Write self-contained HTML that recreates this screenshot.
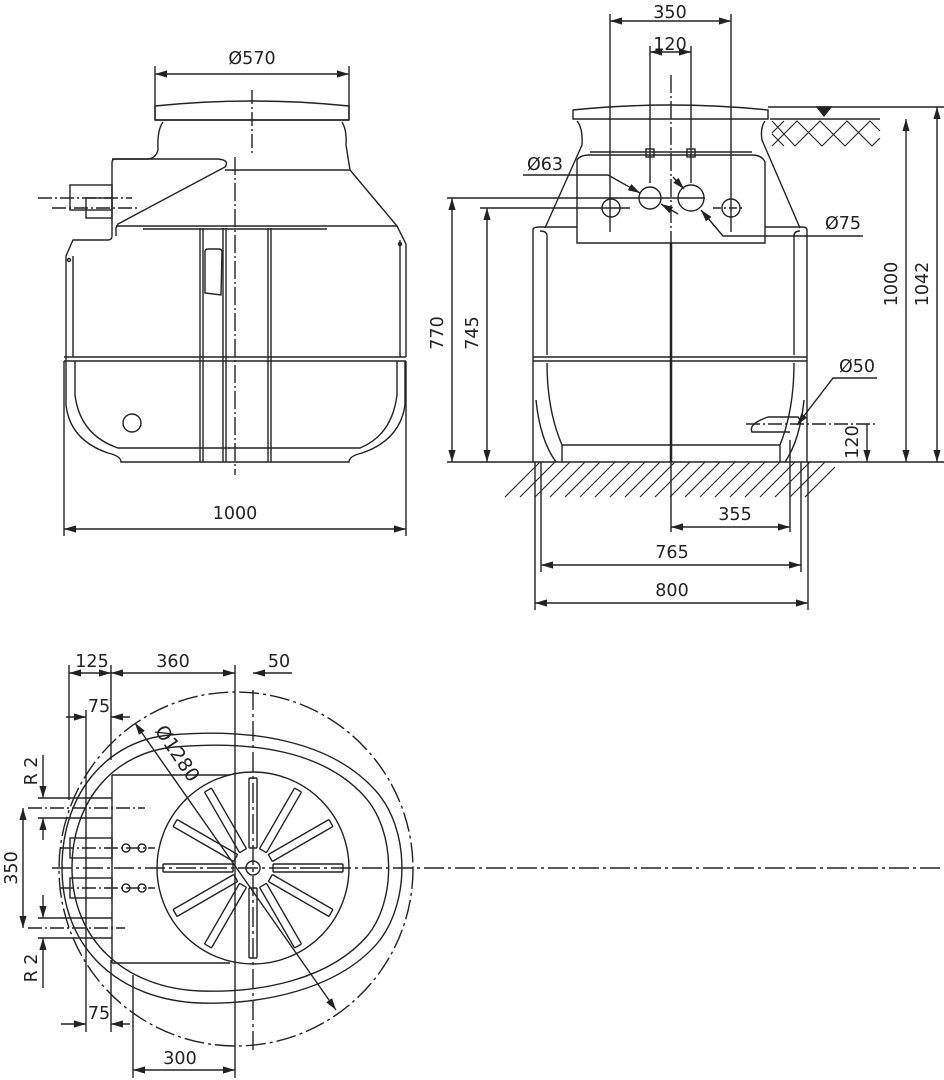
<!DOCTYPE html>
<html><head><meta charset="utf-8"><style>
html,body{margin:0;padding:0;background:#fff}
svg{display:block}
text{font-family:"DejaVu Sans","Liberation Sans",sans-serif;font-size:17.5px;fill:#222}
</style></head><body>
<svg width="944" height="1080" viewBox="0 0 944 1080" xmlns="http://www.w3.org/2000/svg">
<defs>
<marker id="a" viewBox="0 0 10 10" refX="10" refY="5" markerWidth="12" markerHeight="12" markerUnits="userSpaceOnUse" orient="auto-start-reverse"><path d="M0,2 L10,5 L0,8 z" fill="#222"/></marker>
</defs>
<g fill="none" stroke="#222" stroke-width="1.4">
<!-- ========== LEFT VIEW ========== -->
<path d="M155,120 L155,106 Q252,96 349,106 L349,120 Z"/>
<line x1="155" y1="120" x2="349" y2="120"/>
<path d="M163,122 Q157,130 158,150 Q156,158 148,159"/>
<path d="M342,122 Q347,130 346,145 L350,170"/>
<path d="M148,159 L115,159 Q112,159 112,163 L112,236 Q112,240 108,240 L73,240 L66,256 L66,357"/>
<path d="M112,159 L218,159 Q230,160 225,167 L118,224 L116,228 L116,236"/>
<line x1="225" y1="170" x2="350" y2="170"/>
<path d="M350,170 L397,226 L406,244 L406,357"/>
<line x1="116" y1="226" x2="397" y2="226"/>
<line x1="143" y1="229" x2="327" y2="229"/>
<rect x="70" y="185" width="42" height="25"/>
<rect x="86" y="198" width="26" height="20"/>
<line x1="38" y1="198" x2="132" y2="198" stroke-dasharray="14,3,2,3"/>
<line x1="52" y1="208" x2="140" y2="208" stroke-dasharray="14,3,2,3"/>
<line x1="64" y1="357" x2="406" y2="357"/><line x1="64" y1="361" x2="406" y2="361"/>
<path d="M66,357 L66,405 Q70,440 108,453 Q121,456 121,462 L349,462 Q349,456 362,453 Q400,440 405,405 L405,361"/>
<path d="M75,361 L75,395 Q80,435 118,448 L360,448 Q392,435 397,395 L397,361"/>
<path d="M73,256 L73,357 M400,240 L400,357"/>
<path d="M200,228 V462 M203,228 V462 M223,228 V462 M226,228 V462 M268,228 V462 M271,228 V462"/>
<path d="M205,252 Q205,249 208,249 L219,249 Q222,249 222,252 L221,295 L205,293 Z"/>
<circle cx="132" cy="423" r="9"/>
<circle cx="69" cy="260" r="1.5"/><circle cx="400" cy="244" r="1.5"/>
<line x1="252" y1="90" x2="252" y2="155" stroke-dasharray="14,3,2,3"/>
<line x1="235" y1="157" x2="235" y2="475" stroke-dasharray="18,3,2,3"/>
<line x1="155" y1="66" x2="155" y2="120"/><line x1="349" y1="66" x2="349" y2="120"/>
<line x1="155" y1="74" x2="349" y2="74" marker-start="url(#a)" marker-end="url(#a)"/>
<line x1="64" y1="361" x2="64" y2="536"/><line x1="406" y1="361" x2="406" y2="536"/>
<line x1="64" y1="529" x2="406" y2="529" marker-start="url(#a)" marker-end="url(#a)"/>

<!-- ========== RIGHT VIEW ========== -->
<path d="M573,119 L573,110 Q670,100 768,110 L768,119 Z"/>
<path d="M577,121 Q583,128 582,145 L545,228"/>
<path d="M765,121 Q760,128 762,140 L800,228"/>
<path d="M577,243 L577,160 Q580,155 590,155 L752,155 Q762,155 765,162 L765,243 Z"/>
<line x1="590" y1="152" x2="752" y2="152"/>
<rect x="646" y="149" width="8" height="8"/><rect x="687" y="149" width="8" height="8"/>
<circle cx="611" cy="208" r="9"/><circle cx="650" cy="198" r="11"/><circle cx="691" cy="198" r="13"/><circle cx="731" cy="208" r="9"/>
<line x1="447" y1="198" x2="705" y2="198"/>
<line x1="480" y1="208" x2="630" y2="208"/><line x1="713" y1="208" x2="745" y2="208" stroke-dasharray="8,3,2,3"/>
<path d="M533,462 L533,229 Q534,227 540,227 L577,227 M765,227 L802,227 Q807,227 807,230 L807,462"/>
<path d="M540,231 Q547,231 547,236 L547,355 M800,231 Q794,231 794,236 L794,355"/>
<line x1="533" y1="357" x2="807" y2="357"/><line x1="533" y1="361" x2="807" y2="361"/>
<path d="M547,363 Q547,410 562,445 L562,462 M562,445 L780,445 L780,462 M794,363 Q794,410 780,445"/>
<path d="M536,400 Q540,440 556,462 M804,400 Q800,440 785,462"/>
<path d="M800,420 L798,417 L768,417 Q748,424 752,432 L790,432"/>
<line x1="746" y1="424" x2="875" y2="424" stroke-dasharray="14,3,2,3"/>
<line x1="671" y1="75" x2="671" y2="243" stroke-dasharray="18,3,2,3"/>
<line x1="671" y1="243" x2="671" y2="462" stroke-width="2.5"/>
<line x1="671" y1="462" x2="671" y2="532"/>
<line x1="447" y1="462" x2="944" y2="462"/>
<path d="M505,497 L540,462 M520,497 L555,462 M535,497 L570,462 M550,497 L585,462 M565,497 L600,462 M580,497 L615,462 M595,497 L630,462 M610,497 L645,462 M625,497 L660,462 M640,497 L675,462 M655,497 L690,462 M670,497 L705,462 M685,497 L720,462 M700,497 L735,462 M715,497 L750,462 M730,497 L765,462 M745,497 L780,462 M760,497 L795,462 M775,497 L810,462 M790,497 L825,462 M805,497 L835,467" stroke-width="1.1"/>
<line x1="770" y1="119" x2="880" y2="119"/>
<path d="M772,121 L795,146 L820,121 L845,146 L870,121 L880,131 M772,146 L797,121 L822,146 L847,121 L872,146 L880,138 M772,133 L784,121 M772,134 L784,146" stroke-width="1.1"/>
<path d="M817,107 L831,107 L824,116 Z" fill="#222"/>
<line x1="768" y1="107" x2="944" y2="107"/>
<line x1="610" y1="14" x2="610" y2="232"/><line x1="731" y1="14" x2="731" y2="232"/>
<line x1="610" y1="21" x2="731" y2="21" marker-start="url(#a)" marker-end="url(#a)"/>
<line x1="650" y1="46" x2="650" y2="183"/><line x1="691" y1="46" x2="691" y2="183"/>
<line x1="650" y1="52" x2="691" y2="52" marker-start="url(#a)" marker-end="url(#a)"/>
<line x1="452" y1="198" x2="452" y2="462" marker-start="url(#a)" marker-end="url(#a)"/>
<line x1="487" y1="208" x2="487" y2="462" marker-start="url(#a)" marker-end="url(#a)"/>
<line x1="906" y1="119" x2="906" y2="462" marker-start="url(#a)" marker-end="url(#a)"/>
<line x1="937" y1="107" x2="937" y2="462" marker-start="url(#a)" marker-end="url(#a)"/>
<line x1="867" y1="424" x2="867" y2="462" marker-end="url(#a)"/>
<line x1="535" y1="462" x2="535" y2="610"/><line x1="808" y1="462" x2="808" y2="610"/>
<line x1="541" y1="462" x2="541" y2="572"/><line x1="801" y1="462" x2="801" y2="572"/>
<line x1="790" y1="440" x2="790" y2="532"/>
<line x1="671" y1="527" x2="790" y2="527" marker-start="url(#a)" marker-end="url(#a)"/>
<line x1="541" y1="565" x2="801" y2="565" marker-start="url(#a)" marker-end="url(#a)"/>
<line x1="535" y1="603" x2="808" y2="603" marker-start="url(#a)" marker-end="url(#a)"/>
<path d="M523,175 L608,175 L640,193" marker-end="url(#a)"/>
<path d="M661,204 L678,214" marker-start="url(#a)"/>
<path d="M673,177 L684,189" marker-end="url(#a)"/>
<path d="M863,236 L723,236 L701,210" marker-end="url(#a)"/>
<path d="M877,378 L833,378 L797,425" marker-end="url(#a)"/>

<!-- ========== BOTTOM VIEW ========== -->
<circle cx="236" cy="869" r="177" stroke-dasharray="20,4,3,4"/>
<path d="M62,868 C62,790 110,740 170,735 C250,728 330,740 375,790 C410,828 410,900 380,940 C340,990 260,1005 200,1003 C120,1000 62,950 62,868 Z"/>
<path d="M72,868 C72,800 115,752 175,747 C255,740 325,752 365,797 C396,832 396,900 368,935 C330,980 260,993 200,991 C125,988 72,940 72,868 Z"/>
<path d="M112,775 L230,775 M112,963 L230,963 M112,775 L112,963"/>
<rect x="70" y="838" width="42" height="20"/><rect x="70" y="878" width="42" height="20"/>
<circle cx="253" cy="868" r="96"/>
<circle cx="253" cy="868" r="7"/>
<g transform="translate(253,868)">
<rect x="20" y="-4" width="70" height="8" rx="1"/>
<rect x="20" y="-4" width="70" height="8" rx="1" transform="rotate(30)"/>
<rect x="20" y="-4" width="70" height="8" rx="1" transform="rotate(60)"/>
<rect x="20" y="-4" width="70" height="8" rx="1" transform="rotate(90)"/>
<rect x="20" y="-4" width="70" height="8" rx="1" transform="rotate(120)"/>
<rect x="20" y="-4" width="70" height="8" rx="1" transform="rotate(150)"/>
<rect x="20" y="-4" width="70" height="8" rx="1" transform="rotate(180)"/>
<rect x="20" y="-4" width="70" height="8" rx="1" transform="rotate(210)"/>
<rect x="20" y="-4" width="70" height="8" rx="1" transform="rotate(240)"/>
<rect x="20" y="-4" width="70" height="8" rx="1" transform="rotate(270)"/>
<rect x="20" y="-4" width="70" height="8" rx="1" transform="rotate(300)"/>
<rect x="20" y="-4" width="70" height="8" rx="1" transform="rotate(330)"/>
</g>
<circle cx="126" cy="848" r="4"/><circle cx="142" cy="848" r="4"/><circle cx="126" cy="888" r="4"/><circle cx="142" cy="888" r="4"/>
<line x1="52" y1="868" x2="944" y2="868" stroke-dasharray="20,4,3,4"/>
<line x1="253" y1="690" x2="253" y2="1050" stroke-dasharray="20,4,3,4"/>
<line x1="60" y1="848" x2="155" y2="848" stroke-dasharray="14,3,2,3"/>
<line x1="60" y1="888" x2="155" y2="888" stroke-dasharray="14,3,2,3"/>
<line x1="28" y1="808" x2="145" y2="808" stroke-dasharray="14,3,2,3"/>
<line x1="28" y1="928" x2="125" y2="928" stroke-dasharray="14,3,2,3"/>
<line x1="38" y1="798" x2="112" y2="798"/><line x1="38" y1="818" x2="112" y2="818"/>
<line x1="38" y1="918" x2="112" y2="918"/><line x1="38" y1="938" x2="112" y2="938"/>
<line x1="135" y1="723" x2="336" y2="1010" marker-start="url(#a)" marker-end="url(#a)"/>
<line x1="69" y1="665" x2="69" y2="800"/><line x1="111" y1="665" x2="111" y2="760"/>
<line x1="235" y1="665" x2="235" y2="1078"/><line x1="86" y1="710" x2="86" y2="1032"/>
<line x1="111" y1="960" x2="111" y2="1032"/><line x1="133" y1="975" x2="133" y2="1078"/>
<line x1="69" y1="673" x2="111" y2="673" marker-start="url(#a)" marker-end="url(#a)"/>
<line x1="111" y1="673" x2="235" y2="673" marker-start="url(#a)" marker-end="url(#a)"/>
<line x1="292" y1="673" x2="253" y2="673" marker-end="url(#a)"/>
<line x1="66" y1="717" x2="86" y2="717" marker-end="url(#a)"/>
<line x1="130" y1="717" x2="111" y2="717" marker-end="url(#a)"/>
<line x1="61" y1="1024" x2="86" y2="1024" marker-end="url(#a)"/>
<line x1="130" y1="1024" x2="111" y2="1024" marker-end="url(#a)"/>
<line x1="133" y1="1070" x2="235" y2="1070" marker-start="url(#a)" marker-end="url(#a)"/>
<line x1="23" y1="808" x2="23" y2="928" marker-start="url(#a)" marker-end="url(#a)"/>
<line x1="43" y1="755" x2="43" y2="798" marker-end="url(#a)"/>
<line x1="43" y1="840" x2="43" y2="818" marker-end="url(#a)"/>
<line x1="43" y1="895" x2="43" y2="918" marker-end="url(#a)"/>
<line x1="43" y1="988" x2="43" y2="938" marker-end="url(#a)"/>
</g>
<g>
<text x="252" y="64" text-anchor="middle">Ø570</text>
<text x="235" y="519" text-anchor="middle">1000</text>
<text x="670" y="18" text-anchor="middle">350</text>
<text x="670" y="50" text-anchor="middle">120</text>
<text x="545" y="170" text-anchor="middle">Ø63</text>
<text x="843" y="229" text-anchor="middle">Ø75</text>
<text x="857" y="372" text-anchor="middle">Ø50</text>
<text x="735" y="520" text-anchor="middle">355</text>
<text x="672" y="558" text-anchor="middle">765</text>
<text x="672" y="596" text-anchor="middle">800</text>
<text transform="translate(443,333) rotate(-90)" text-anchor="middle">770</text>
<text transform="translate(478,333) rotate(-90)" text-anchor="middle">745</text>
<text transform="translate(897,284) rotate(-90)" text-anchor="middle">1000</text>
<text transform="translate(928,284) rotate(-90)" text-anchor="middle">1042</text>
<text transform="translate(858,442) rotate(-90)" text-anchor="middle">120</text>
<text x="92" y="667" text-anchor="middle">125</text>
<text x="173" y="667" text-anchor="middle">360</text>
<text x="279" y="667" text-anchor="middle">50</text>
<text x="99" y="712" text-anchor="middle">75</text>
<text x="99" y="1019" text-anchor="middle">75</text>
<text x="180" y="1064" text-anchor="middle">300</text>
<text transform="translate(17,868) rotate(-90)" text-anchor="middle">350</text>
<text transform="translate(37,771) rotate(-90)" text-anchor="middle">R 2</text>
<text transform="translate(37,968) rotate(-90)" text-anchor="middle">R 2</text>
<text transform="translate(172,757) rotate(56)" text-anchor="middle" style="font-size:19px">Ø1280</text>
</g>
</svg>
</body></html>
